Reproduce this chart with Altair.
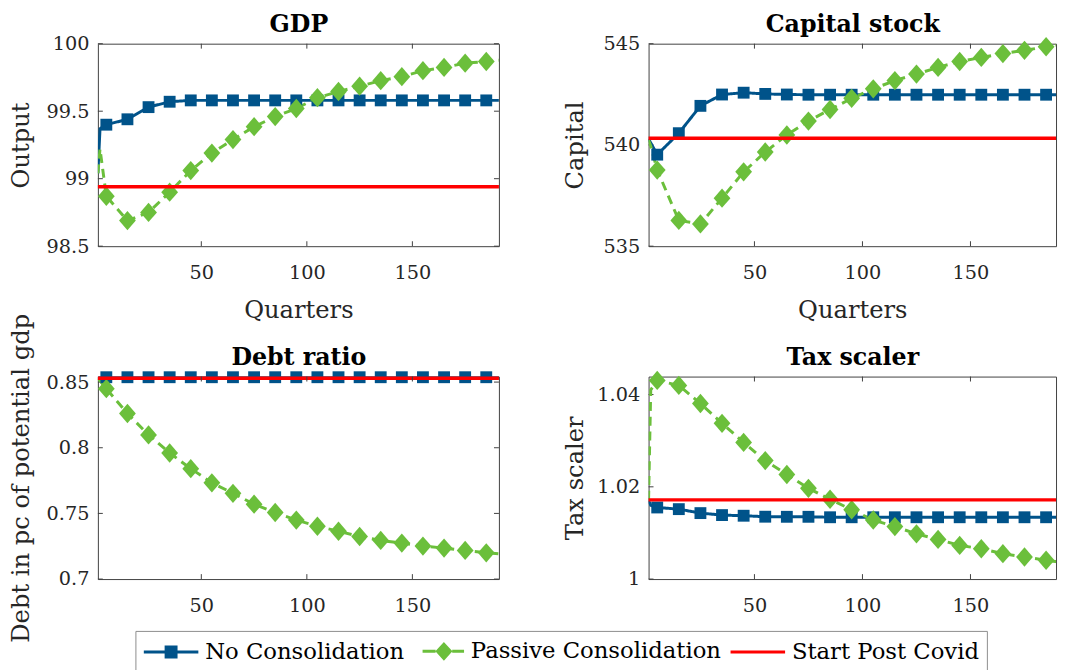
import altair as alt
import pandas as pd

FONT = "DejaVu Serif"
BLUE = "#00538A"
GREEN = "#6BBF3B"
RED = "#FF0000"
FRAME = "#404040"

SERIES = ["No Consolidation", "Passive Consolidation", "Start Post Covid"]
QUARTERS = [1, 2, 5, 15, 25, 35, 45, 55, 65, 75, 85, 95, 105, 115, 125, 135, 145, 155, 165, 175, 185, 191]
MARKER_QUARTERS = [5, 15, 25, 35, 45, 55, 65, 75, 85, 95, 105, 115, 125, 135, 145, 155, 165, 175, 185]
X_TICKS = [50, 100, 150]

GDP_NO = [99.04, 99.37, 99.40, 99.44, 99.53, 99.57, 99.58, 99.58, 99.58, 99.58, 99.58,
          99.58, 99.58, 99.58, 99.58, 99.58, 99.58, 99.58, 99.58, 99.58, 99.58, 99.58]
GDP_PASSIVE = [99.04, 99.22, 98.87, 98.69, 98.75, 98.90, 99.06, 99.19, 99.29, 99.385, 99.46,
               99.52, 99.60, 99.646, 99.685, 99.726, 99.756, 99.80, 99.824, 99.856, 99.868, 99.878]
GDP_START = 98.94
GDP_TICKS = [98.5, 99, 99.5, 100]

CAP_NO = [540.30, 540.10, 539.52, 540.58, 541.93, 542.49, 542.58, 542.52, 542.49, 542.48, 542.48,
          542.48, 542.48, 542.48, 542.48, 542.48, 542.48, 542.48, 542.48, 542.48, 542.48, 542.48]
CAP_PASSIVE = [540.25, 539.95, 538.76, 536.27, 536.10, 537.37, 538.67, 539.65, 540.49, 541.18, 541.75,
               542.30, 542.77, 543.18, 543.50, 543.83, 544.12, 544.32, 544.51, 544.67, 544.85, 544.95]
CAP_START = 540.33
CAP_TICKS = [535, 540, 545]

DEBT_NO = [0.8532, 0.8536, 0.8537, 0.8537, 0.8537, 0.8537, 0.8537, 0.8537, 0.8537, 0.8537, 0.8537,
           0.8537, 0.8537, 0.8537, 0.8537, 0.8537, 0.8537, 0.8537, 0.8537, 0.8537, 0.8537, 0.8537]
DEBT_PASSIVE = [0.8530, 0.8510, 0.8450, 0.8261, 0.8098, 0.7960, 0.7841, 0.7733, 0.7653, 0.7570, 0.7507,
                0.7449, 0.7402, 0.7364, 0.7324, 0.7294, 0.7274, 0.7251, 0.7236, 0.7218, 0.7200, 0.7193]
DEBT_START = 0.8530
DEBT_TICKS = [0.7, 0.75, 0.8, 0.85]

TAX_NO = [1.0170, 1.0160, 1.01552, 1.01516, 1.0143, 1.01387, 1.01373, 1.01352, 1.0135, 1.0135, 1.0134,
          1.0134, 1.0134, 1.0134, 1.0134, 1.0134, 1.0134, 1.0134, 1.0134, 1.0134, 1.0134, 1.0134]
TAX_PASSIVE = [1.0172, 1.0410, 1.04307, 1.04199, 1.03806, 1.03377, 1.02962, 1.02568, 1.02267, 1.01967, 1.0173,
               1.01503, 1.0128, 1.01138, 1.0098, 1.00859, 1.0073, 1.00657, 1.0055, 1.00479, 1.00408, 1.0037]
TAX_START = 1.01717
TAX_TICKS = [1, 1.02, 1.04]

H = 205
DIAMOND = "M0,-1.15L1,0L0,1.15L-1,0Z"

# legend symbols: line segment(s) with the series marker in the middle
LEGEND_SYMBOLS = [
    "M-2.3,0L2.3,0M-0.42,-0.42L0.42,-0.42L0.42,0.42L-0.42,0.42Z",
    "M-1.2,0L-0.1,0M1.3,0L2.3,0M0.6,-0.6L1.15,0L0.6,0.6L0.05,0Z",
    "M-2.3,0L2.3,0",
]

LEGEND = alt.Legend(
    orient="none", legendX=38, legendY=594.5, direction="horizontal", title=None,
    labelFont=FONT, labelFontSize=23, labelColor="black", labelLimit=400,
    labelOffset=21, symbolOffset=15.6, symbolSize=576, symbolStrokeWidth=3,
    columnPadding=3, padding=7, strokeColor="#8c8c8c", fillColor="white",
)

COLOR_SCALE = alt.Scale(domain=SERIES, range=[BLUE, GREEN, RED])
COLOR = alt.Color("series:N", scale=COLOR_SCALE, legend=LEGEND)
STROKE = alt.Stroke("series:N", scale=COLOR_SCALE, legend=LEGEND)
LEG_SHAPE = alt.Shape("series:N", scale=alt.Scale(domain=SERIES, range=LEGEND_SYMBOLS), legend=LEGEND)
DASH = alt.StrokeDash("series:N", scale=alt.Scale(domain=SERIES[:2], range=[[1, 0], [9, 6]]), legend=None)


def long_df(no, passive):
    rows = []
    for q, a, b in zip(QUARTERS, no, passive):
        rows.append({"q": q, "v": a, "series": SERIES[0]})
        rows.append({"q": q, "v": b, "series": SERIES[1]})
    return pd.DataFrame(rows)


def panel(title, ytitle, no, passive, start, ydomain, yticks, width, xmax, xtitle, ytitle_pad,
          mirror_right=True, with_legend=False):
    xs = alt.Scale(domain=[1, xmax], nice=False, zero=False)
    ys = alt.Scale(domain=ydomain, nice=False, zero=False)
    xaxis = alt.Axis(values=X_TICKS, title=xtitle, labelPadding=18, titlePadding=17,
                     labelFont=FONT, labelFontSize=19.5, labelColor="#262626",
                     titleFont=FONT, titleFontSize=24.5, titleFontWeight="normal", titleColor="#262626",
                     ticks=False, domain=False, grid=False)
    yaxis = alt.Axis(values=yticks, title=ytitle, format="~g", labelPadding=9,
                     minExtent=55, maxExtent=55, titlePadding=ytitle_pad,
                     labelFont=FONT, labelFontSize=19.5, labelColor="#262626",
                     titleFont=FONT, titleFontSize=24.5, titleFontWeight="normal", titleColor="#262626",
                     ticks=False, domain=False, grid=False)
    # panel heading drawn as the title of a label-less top axis
    topaxis = alt.Axis(orient="top", title=title, labels=False, ticks=False, domain=False, grid=False,
                       minExtent=0, maxExtent=0, titlePadding=7,
                       titleFont=FONT, titleFontSize=24, titleFontWeight="bold", titleColor="black")

    def X():
        return alt.X("q:Q", scale=xs, axis=xaxis)

    def Y():
        return alt.Y("v:Q", scale=ys, axis=yaxis)

    df = long_df(no, passive)
    mk = df[df["q"].isin(MARKER_QUARTERS)]
    tx = pd.DataFrame({"q": X_TICKS})
    ty = pd.DataFrame({"v": yticks})

    layers = [
        alt.Chart(tx).mark_rule(color=FRAME, strokeWidth=1).encode(x=X(), y=alt.value(H), y2=alt.value(H - 5)),
        alt.Chart(ty).mark_rule(color=FRAME, strokeWidth=1).encode(y=Y(), x=alt.value(0), x2=alt.value(5)),
    ]
    if mirror_right:
        layers.append(alt.Chart(ty).mark_rule(color=FRAME, strokeWidth=1).encode(
            y=Y(), x=alt.value(width), x2=alt.value(width - 5)))
    layers += [
        alt.Chart(df).mark_line(strokeWidth=3, clip=True).encode(x=X(), y=Y(), color=COLOR, strokeDash=DASH),
        alt.Chart(mk[mk["series"] == SERIES[0]]).mark_point(
            filled=True, opacity=1, shape="square", size=144).encode(x=X(), y=Y(), color=COLOR),
        alt.Chart(mk[mk["series"] == SERIES[1]]).mark_point(
            filled=True, opacity=1, shape=DIAMOND, size=289).encode(x=X(), y=Y(), color=COLOR),
        alt.Chart(pd.DataFrame({"v": [start], "series": [SERIES[2]]})).mark_rule(strokeWidth=3.5).encode(
            y=Y(), color=COLOR),
    ]
    if with_legend:
        # legend-only layer: rows without coordinates are filtered, only the legend remains
        leg = pd.DataFrame({"q": [None] * 3, "v": [None] * 3, "series": SERIES})
        layers.append(
            alt.Chart(leg).mark_point(filled=True, opacity=1, strokeWidth=3, size=576).encode(
                x=X(), y=Y(), color=COLOR, stroke=STROKE, shape=LEG_SHAPE)
        )
    main = alt.layer(*layers)
    top = alt.Chart(tx).mark_rule(color=FRAME, strokeWidth=1).encode(
        x=alt.X("q:Q", scale=xs, axis=topaxis), y=alt.value(0), y2=alt.value(5))
    return alt.layer(main, top).resolve_axis(x="independent").properties(width=width, height=H)


p1 = panel("GDP", "Output", GDP_NO, GDP_PASSIVE, GDP_START, [98.5, 100], GDP_TICKS, 406, 191, "Quarters", 10,
           with_legend=True)
p2 = panel("Capital stock", "Capital", CAP_NO, CAP_PASSIVE, CAP_START, [535, 545], CAP_TICKS, 412.5, 189.6,
           "Quarters", 6.6, mirror_right=False)
p3 = panel("Debt ratio", "Debt in pc of potential gdp", DEBT_NO, DEBT_PASSIVE, DEBT_START, [0.7, 0.8542],
           DEBT_TICKS, 406, 191, None, 10)
p4 = panel("Tax scaler", "Tax scaler", TAX_NO, TAX_PASSIVE, TAX_START, [1, 1.0439], TAX_TICKS, 412.5, 189.6,
           None, 7, mirror_right=False)

chart = alt.concat(
    p1, p2, p3, p4, columns=2, spacing={"row": 132, "column": 151.5}, bounds="flush", align="each"
).configure_view(stroke=FRAME, strokeWidth=1).properties(
    padding={"left": 0, "top": 0, "right": 0, "bottom": 0}, background="white"
)

chart.save("out.html", embed_options={"renderer": "svg", "actions": False})
